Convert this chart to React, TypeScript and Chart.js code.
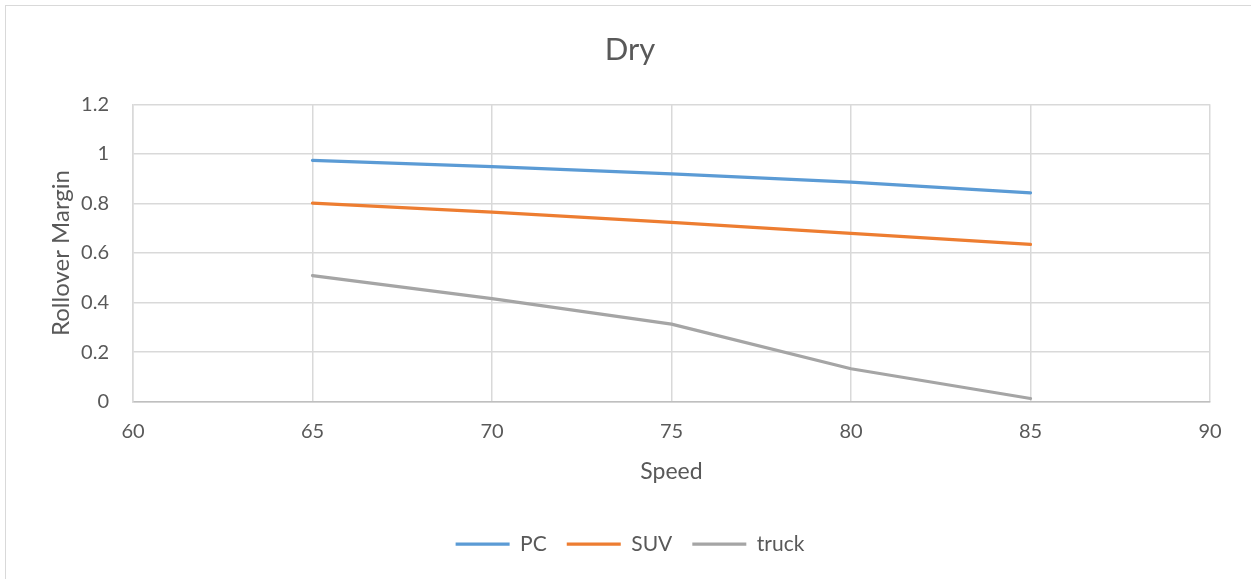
import React, { useEffect, useRef } from "react";
import { Chart, registerables } from "chart.js";

Chart.register(...registerables);

// ---- data ----
const speeds = [65, 70, 75, 80, 85];
const pcValues = [0.974, 0.949, 0.919, 0.886, 0.843];
const suvValues = [0.801, 0.765, 0.724, 0.679, 0.635];
const truckValues = [0.509, 0.416, 0.313, 0.133, 0.013];
const seriesNames = ["PC", "SUV", "truck"];
const seriesColors = ["#5B9BD5", "#ED7D31", "#A5A5A5"];
const xMin = 60;
const xMax = 90;
const xStep = 5;
const yMin = 0;
const yMax = 1.2;
const yStep = 0.2;
const chartTitle = "Dry";
const xTitle = "Speed";
const yTitle = "Rollover Margin";

const FONT = "Lato, 'Open Sans', sans-serif";
const TEXT = "#595959";

export default function App() {
  const ref = useRef<HTMLCanvasElement | null>(null);

  useEffect(() => {
    const canvas = ref.current;
    if (!canvas) return;
    const allValues = [pcValues, suvValues, truckValues];
    const chart = new Chart(canvas, {
      type: "line",
      data: {
        datasets: allValues.map((vals, i) => ({
          label: seriesNames[i],
          data: speeds.map((s, j) => ({ x: s, y: vals[j] })),
          borderColor: seriesColors[i],
          backgroundColor: seriesColors[i],
          borderWidth: 3.25,
          borderCapStyle: "round" as const,
          borderJoinStyle: "round" as const,
          pointRadius: 0,
          pointHoverRadius: 0,
          tension: 0,
          fill: false,
        })),
      },
      options: {
        animation: false,
        responsive: false,
        devicePixelRatio: 1,
        layout: { padding: { left: 50, right: 41, top: 0, bottom: 14.5 } },
        plugins: {
          tooltip: { enabled: false },
          title: {
            display: true,
            text: chartTitle,
            color: TEXT,
            font: { family: FONT, size: 31, weight: "normal", lineHeight: 1.2 },
            padding: { top: 31.4, bottom: 35.7 },
          },
          legend: {
            display: true,
            position: "bottom",
            labels: {
              color: TEXT,
              font: { family: FONT, size: 21 },
              usePointStyle: true,
              pointStyle: "line",
              pointStyleWidth: 54,
              boxHeight: 3,
              padding: 20,
            },
          },
        },
        scales: {
          x: {
            type: "linear",
            min: xMin,
            max: xMax,
            ticks: {
              stepSize: xStep,
              color: TEXT,
              font: { family: FONT, size: 20 },
              padding: 18,
              maxRotation: 0,
            },
            grid: { color: "#D9D9D9", lineWidth: 1.5, drawTicks: false },
            border: { color: "#BFBFBF", width: 1.5 },
            title: {
              display: true,
              text: xTitle,
              color: TEXT,
              font: { family: FONT, size: 23, lineHeight: 1.2 },
              padding: { top: 0, bottom: 27.7 },
            },
            afterFit: (s: any) => {
              s.height = 111.8;
            },
          },
          y: {
            type: "linear",
            min: yMin,
            max: yMax,
            ticks: {
              stepSize: yStep,
              color: TEXT,
              font: { family: FONT, size: 20 },
              padding: 24,
              callback: (v: any) => String(Math.round(Number(v) * 10) / 10),
            },
            grid: { color: "#D9D9D9", lineWidth: 1.5, drawTicks: false },
            border: { color: "#D9D9D9", width: 1.5 },
            title: {
              display: true,
              text: yTitle,
              color: TEXT,
              font: { family: FONT, size: 24, lineHeight: 1 },
              padding: { top: -1, bottom: 0 },
            },
            afterFit: (s: any) => {
              s.width = 83;
            },
          },
        },
      },
    });
    return () => chart.destroy();
  }, []);

  return (
    <div
      style={{
        position: "fixed",
        left: 0,
        top: 0,
        width: 1251,
        height: 579,
        overflow: "hidden",
        background: "#ffffff",
      }}
    >
      <div
        style={{
          position: "absolute",
          left: 5,
          top: 5,
          width: 1400,
          height: 800,
          border: "1.5px solid #D9D9D9",
          boxSizing: "border-box",
        }}
      />
      <canvas
        ref={ref}
        width={1251}
        height={579}
        style={{ position: "absolute", left: 0, top: 0, width: 1251, height: 579 }}
      />
    </div>
  );
}
